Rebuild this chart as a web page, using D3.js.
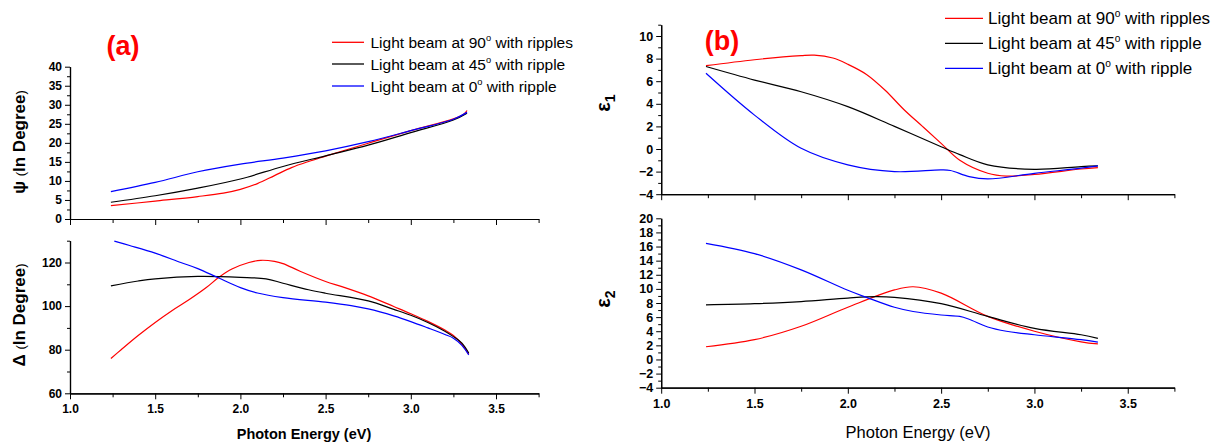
<!DOCTYPE html>
<html><head><meta charset="utf-8">
<script src="https://cdn.jsdelivr.net/npm/d3@7"></script>
<style>
body{margin:0;background:#fff;}
svg{display:block;}
text{font-family:Arial,"Liberation Sans",sans-serif;}
</style></head>
<body><svg id="c" width="1219" height="448"></svg>
<script>
// ---------- DATA ----------
const seriesNames = ["Light beam at 90", "Light beam at 45", "Light beam at 0"];
const seriesTails = [" with ripples", " with ripple", " with ripple"];
const seriesColors = ["#ff0000", "#000000", "#0000ff"];

// Psi (deg) vs photon energy (eV)
const psiRed   = [[1.24,3.5],[1.5,4.7],[1.75,5.9],[1.9,6.8],[2.0,7.8],[2.1,9.3],[2.2,11.4],[2.3,13.5],[2.4,15.1],[2.5,16.5],[2.75,19.9],[3.0,23.2],[3.25,26.3],[3.31,27.5],[3.33,28.5]];
const psiBlack = [[1.24,4.4],[1.5,6.1],[1.75,8.1],[2.0,10.5],[2.25,13.8],[2.5,16.6],[2.75,19.4],[3.0,22.7],[3.25,26.0],[3.33,27.8]];
const psiBlue  = [[1.24,7.2],[1.5,9.6],[1.75,12.4],[2.0,14.4],[2.25,16.0],[2.5,17.9],[2.75,20.3],[3.0,23.2],[3.25,26.2],[3.33,28.0]];

// Delta (deg)
const delRed   = [[1.24,76],[1.3,80],[1.4,86.5],[1.5,92.5],[1.6,98],[1.7,103],[1.8,108.5],[1.87,113],[1.95,117],[2.05,120],[2.12,121],[2.2,120.5],[2.25,119.5],[2.35,116],[2.5,111.3],[2.6,108.8],[2.75,104.7],[2.9,99.8],[3.0,96.5],[3.1,93],[3.2,89],[3.25,86.5],[3.3,82.5],[3.34,78]];
const delBlack = [[1.24,109.3],[1.4,111.5],[1.5,112.5],[1.75,113.6],[2.0,113.2],[2.15,112.5],[2.25,110.5],[2.4,107.5],[2.5,105.9],[2.75,102.4],[2.9,98.5],[3.0,95.8],[3.1,92.5],[3.2,88.5],[3.25,86],[3.3,83],[3.34,78.5]];
const delBlue  = [[1.26,129.8],[1.35,127.8],[1.5,124.3],[1.65,120],[1.75,117.2],[1.87,113],[2.0,108.5],[2.1,106],[2.25,103.9],[2.5,101.8],[2.65,100.2],[2.75,98.7],[2.9,95.5],[3.0,92.9],[3.1,90],[3.2,87],[3.25,85.3],[3.3,82],[3.34,77.6]];

// epsilon 1
const e1Red   = [[1.24,7.37],[1.5,7.9],[1.75,8.26],[1.82,8.3],[1.92,8.05],[2.0,7.5],[2.1,6.6],[2.2,5.2],[2.3,3.5],[2.4,2.0],[2.5,0.5],[2.6,-1.0],[2.75,-2.15],[2.85,-2.4],[3.0,-2.25],[3.25,-1.77],[3.34,-1.65]];
const e1Black = [[1.24,7.3],[1.5,6.1],[1.75,5.07],[2.0,3.75],[2.25,2.0],[2.5,0.2],[2.6,-0.5],[2.75,-1.4],[3.0,-1.8],[3.25,-1.56],[3.34,-1.5]];
const e1Blue  = [[1.24,6.7],[1.5,3.0],[1.75,0.06],[2.0,-1.4],[2.25,-2.0],[2.5,-1.85],[2.55,-1.9],[2.65,-2.45],[2.75,-2.65],[3.0,-2.15],[3.25,-1.7],[3.34,-1.5]];

// epsilon 2
const e2Red   = [[1.24,1.8],[1.5,2.8],[1.75,4.7],[2.0,7.4],[2.25,9.85],[2.35,10.3],[2.5,9.4],[2.75,6.1],[3.0,4.0],[3.25,2.5],[3.34,2.2]];
const e2Black = [[1.24,7.74],[1.5,7.9],[1.75,8.2],[2.0,8.7],[2.15,8.9],[2.25,8.8],[2.5,7.9],[2.75,6.1],[3.0,4.4],[3.25,3.5],[3.34,3.0]];
const e2Blue  = [[1.24,16.46],[1.5,15.0],[1.75,12.7],[2.0,9.8],[2.1,8.8],[2.25,7.4],[2.35,6.8],[2.5,6.3],[2.6,6.1],[2.65,5.7],[2.75,4.6],[2.85,4.0],[3.0,3.5],[3.25,2.8],[3.34,2.45]];

const xMajor = [1.0,1.5,2.0,2.5,3.0,3.5];
const xMinor = [1.25,1.75,2.25,2.75,3.25,3.75];
const psiMajor = [0,5,10,15,20,25,30,35,40];
const psiMinor = [2.5,7.5,12.5,17.5,22.5,27.5,32.5,37.5];
const delMajor = [60,80,100,120];
const delMinor = [70,90,110,130];
const e1Major = [-4,-2,0,2,4,6,8,10];
const e1Minor = [-3,-1,1,3,5,7,9,11];
const e2Major = [-4,-2,0,2,4,6,8,10,12,14,16,18,20];
const e2Minor = [-3,-1,1,3,5,7,9,11,13,15,17,19];

// ---------- DRAW ----------
const svg = d3.select("#c");

function panel(o){
  const x = d3.scaleLinear().domain([1.0,3.75]).range(o.xr);
  const y = d3.scaleLinear().domain(o.yd).range(o.yr);
  const g = svg.append("g");
  const xa = g.append("g").attr("transform",`translate(0,${o.yr[0]})`)
    .call(d3.axisBottom(x).tickValues(xMajor).tickSize(6).tickSizeOuter(0).tickFormat(o.xLabels? d3.format(".1f") : ""));
  g.append("g").attr("transform",`translate(0,${o.yr[0]})`)
    .call(d3.axisBottom(x).tickValues(xMinor).tickSize(4).tickSizeOuter(0).tickFormat(""));
  xa.selectAll("text").attr("font-size",o.tf).attr("font-weight","bold").attr("fill","#000").attr("dy","0.9em");
  const ya = g.append("g").attr("transform",`translate(${o.xr[0]},0)`)
    .call(d3.axisLeft(y).tickValues(o.yMajor).tickSize(5).tickSizeOuter(0).tickPadding(3).tickFormat(d3.format("d")));
  g.append("g").attr("transform",`translate(${o.xr[0]},0)`)
    .call(d3.axisLeft(y).tickValues(o.yMinor).tickSize(3).tickSizeOuter(0).tickFormat(""));
  ya.selectAll("text").attr("font-size",o.tf).attr("font-weight","bold").attr("fill","#000");
  g.selectAll(".domain").attr("stroke","#000").attr("stroke-width",1.2);
  g.selectAll(".tick line").attr("stroke","#000").attr("stroke-width",1);
  const line = d3.line().x(d=>x(d[0])).y(d=>y(d[1])).curve(d3.curveCatmullRom.alpha(0.5));
  o.data.forEach((s,i)=>{
    g.append("path").datum(s).attr("d",line).attr("fill","none")
      .attr("stroke",seriesColors[i]).attr("stroke-width",1.2);
  });
}

panel({xr:[70,538.6], yd:[0,40], yr:[219,66.7], yMajor:psiMajor, yMinor:psiMinor, tf:12, xLabels:false, data:[psiRed,psiBlack,psiBlue]});
panel({xr:[70,538.6], yd:[60,130], yr:[393.3,240.7], yMajor:delMajor, yMinor:delMinor, tf:12, xLabels:true, data:[delRed,delBlack,delBlue]});
panel({xr:[661.2,1174.4], yd:[-4,11], yr:[194.2,24.7], yMajor:e1Major, yMinor:e1Minor, tf:12.5, xLabels:false, data:[e1Red,e1Black,e1Blue]});
panel({xr:[661.2,1174.4], yd:[-4,20], yr:[387.7,218.3], yMajor:e2Major, yMinor:e2Minor, tf:12.5, xLabels:true, data:[e2Red,e2Black,e2Blue]});

svg.append("text").attr("x",304).attr("y",439).attr("text-anchor","middle")
  .attr("font-size",14.5).attr("font-weight","bold").text("Photon Energy (eV)");
svg.append("text").attr("x",918).attr("y",438).attr("text-anchor","middle")
  .attr("font-size",16.5).text("Photon Energy (eV)");

function yTitle(cx,cy,sym){
  const t = svg.append("text").attr("transform",`translate(${cx},${cy}) rotate(-90)`)
    .attr("text-anchor","middle").attr("dy","0.35em").attr("font-size",17).attr("font-weight","bold");
  t.append("tspan").text(sym+" ");
  t.append("tspan").attr("font-weight","normal").attr("font-size",13).text("(");
  t.append("tspan").text("In Degree");
  t.append("tspan").attr("font-weight","normal").attr("font-size",13).text(")");
}
yTitle(19,142,"\u03C8");
yTitle(19,315,"\u0394");

function epsTitle(cx,cy,sub){
  const t = svg.append("text").attr("transform",`translate(${cx},${cy}) rotate(-90)`)
    .attr("text-anchor","middle").attr("dy","0.3em").attr("font-size",20).attr("font-weight","bold");
  t.append("tspan").text("\u03B5");
  t.append("tspan").attr("font-size",14).attr("dy",5).text(sub);
}
epsTitle(604,103,"1");
epsTitle(604,299,"2");

svg.append("text").attr("x",123).attr("y",55).attr("text-anchor","middle")
  .attr("font-family","'Liberation Serif','Times New Roman',serif").attr("font-weight","bold")
  .attr("font-size",27).attr("fill","#ff0000").text("(a)");
svg.append("text").attr("x",722).attr("y",50).attr("text-anchor","middle")
  .attr("font-family","'Liberation Serif','Times New Roman',serif").attr("font-weight","bold")
  .attr("font-size",27).attr("fill","#ff0000").text("(b)");

function legend(x0,x1,tx,ys,fs){
  seriesNames.forEach((n,i)=>{
    svg.append("line").attr("x1",x0).attr("x2",x1).attr("y1",ys[i]).attr("y2",ys[i])
      .attr("stroke",seriesColors[i]).attr("stroke-width",1.3);
    const t = svg.append("text").attr("x",tx).attr("y",ys[i]).attr("dy","0.36em").attr("font-size",fs);
    t.append("tspan").text(n);
    t.append("tspan").attr("font-size",fs*0.6).attr("dy",-fs*0.45).text("o");
    t.append("tspan").attr("dy",fs*0.45).text(seriesTails[i]);
  });
}
legend(332,364,370.5,[42.3,64,86],15.5);
legend(945,983,988,[18.3,43.3,68.3],17);
</script></body></html>
